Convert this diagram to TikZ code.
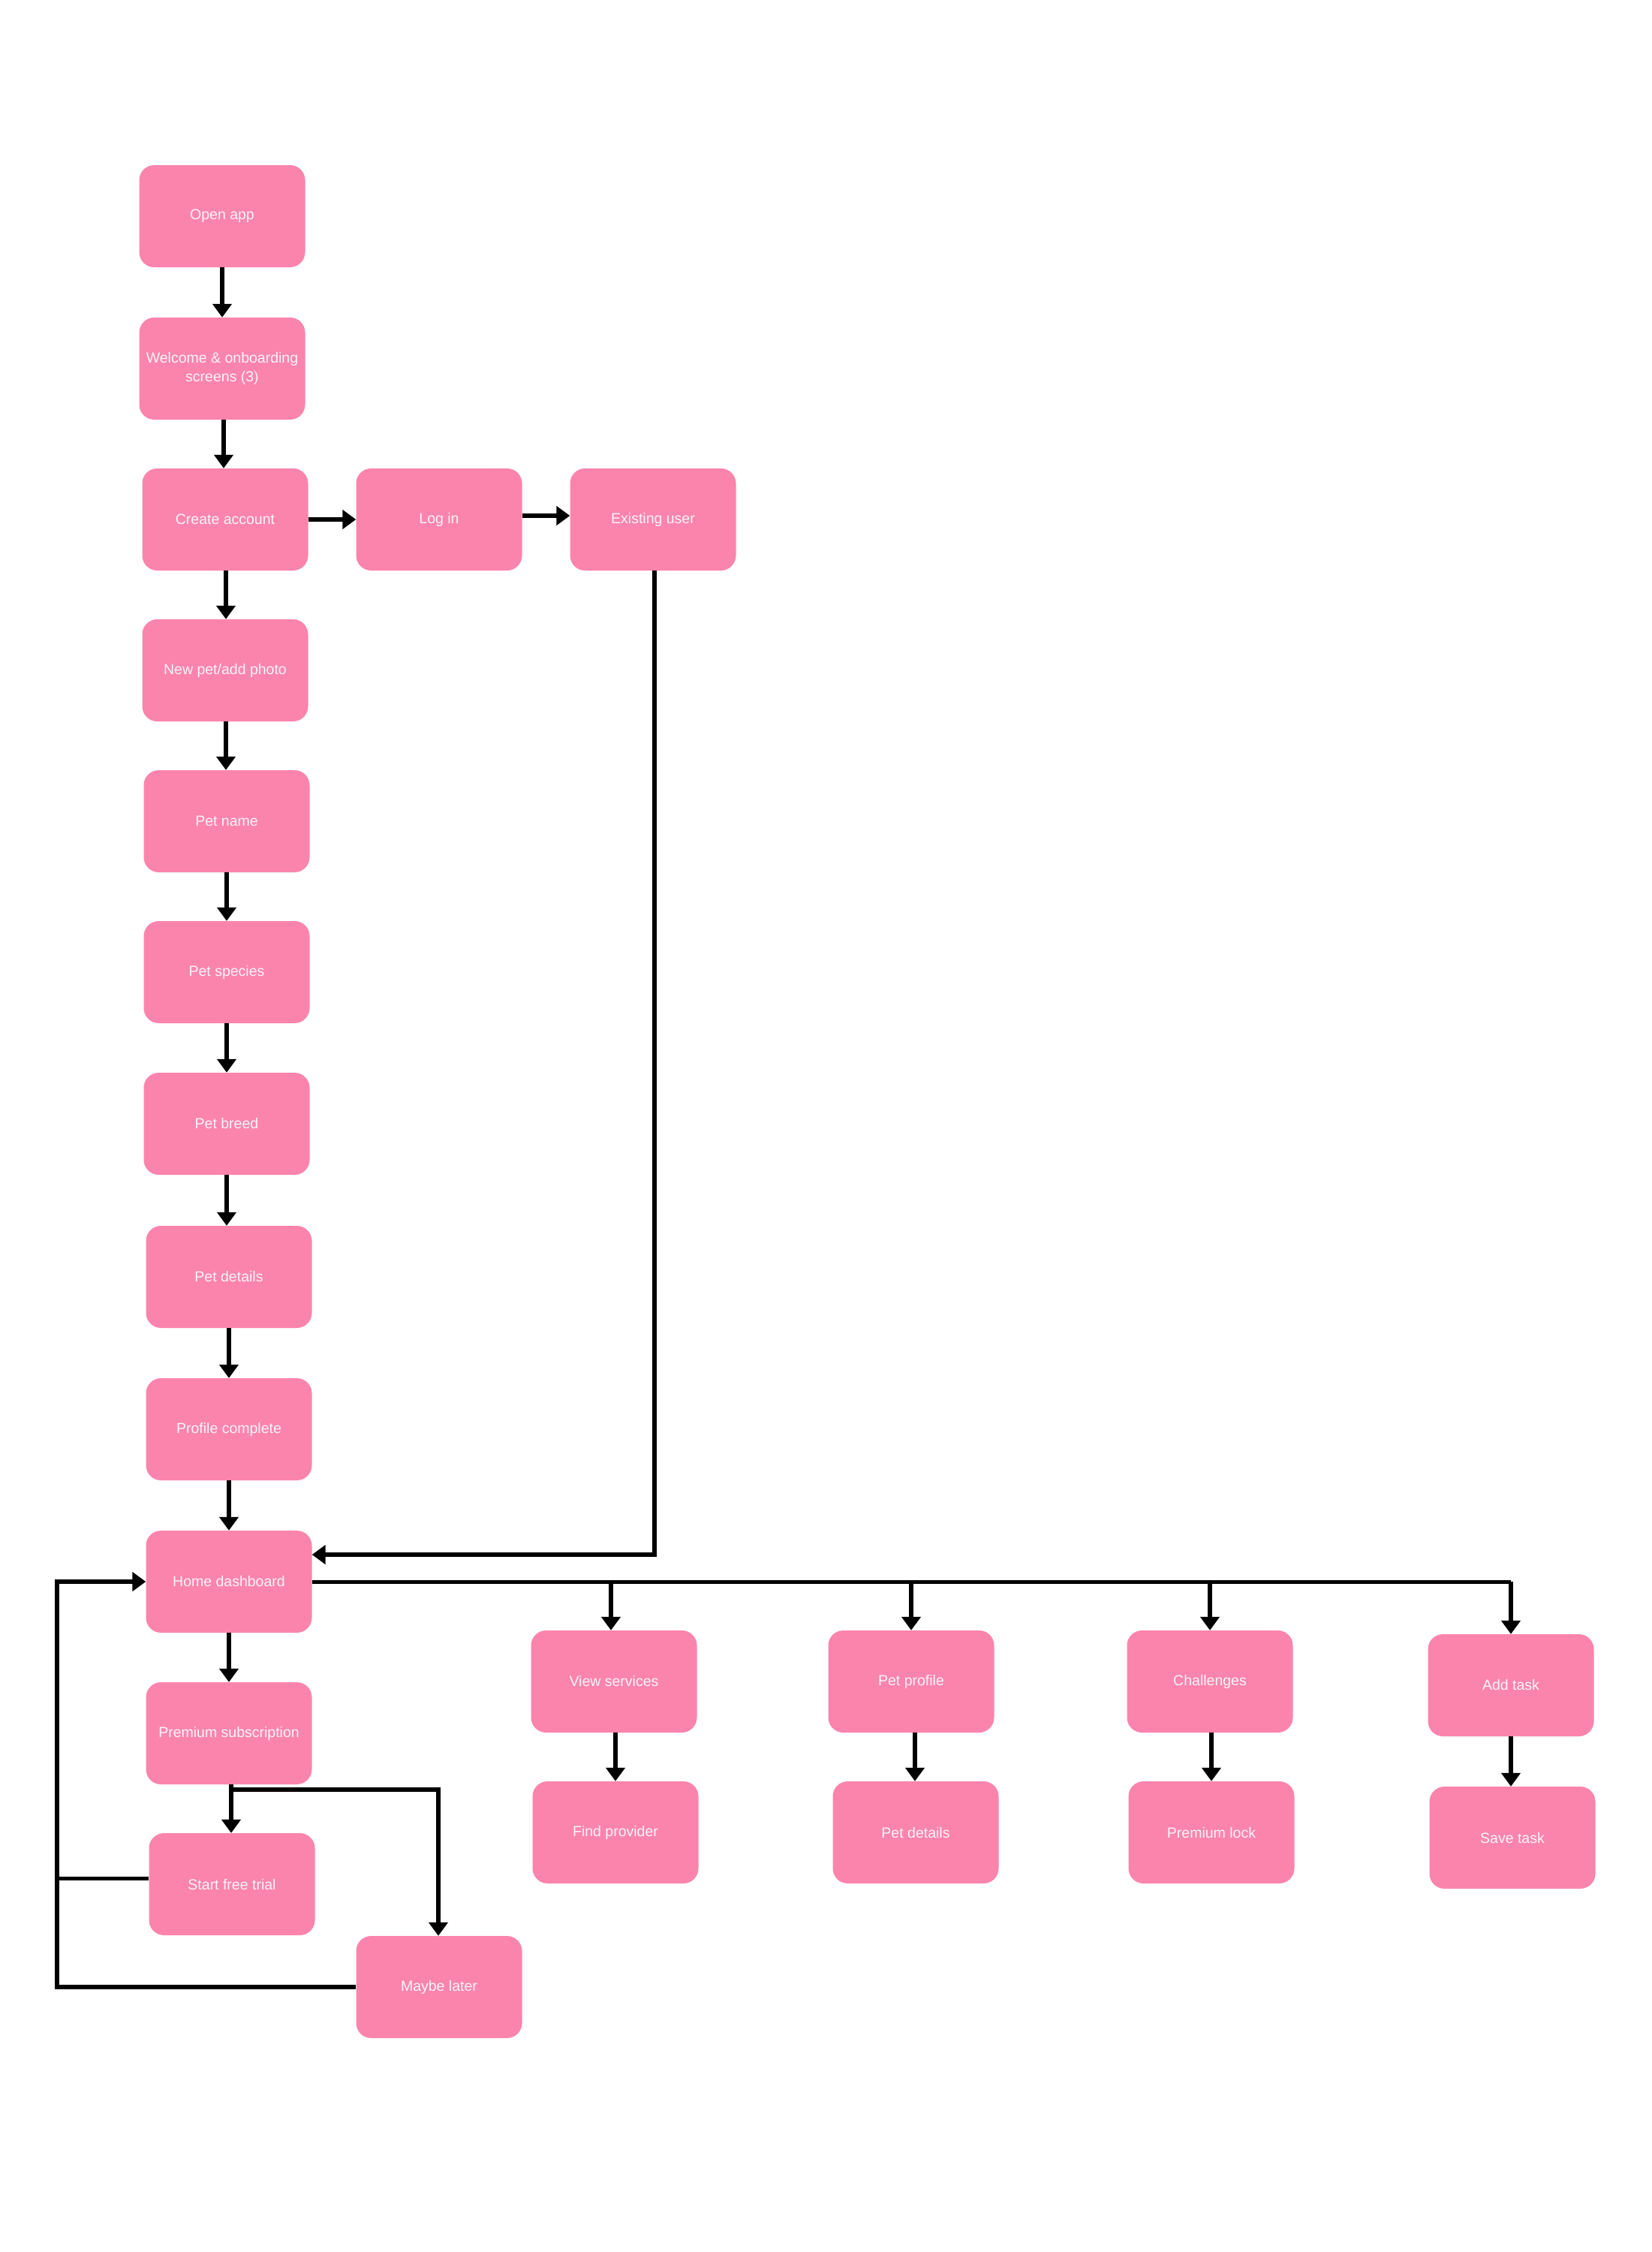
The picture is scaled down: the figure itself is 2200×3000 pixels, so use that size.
\documentclass[tikz,border=0pt]{standalone}
\usepackage{fontspec}
\setmainfont{Liberation Sans}
\usetikzlibrary{arrows.meta,positioning,calc}
\definecolor{boxpink}{HTML}{FB84AD}
\definecolor{boxtext}{HTML}{FFF4F8}
\tikzset{
  box/.style={draw=none, fill=boxpink, rounded corners=20pt, minimum width=221pt, minimum height=136pt,
    inner sep=0pt, align=center, text=boxtext, font=\fontsize{19.5pt}{25pt}\selectfont},
  arr/.style={line width=6pt, -{Triangle[width=25pt,length=18pt]}},
  ln/.style={line width=5pt}
}
\begin{document}
\begin{tikzpicture}[x=1pt,y=-1pt]
\fill[white] (0,0) rectangle (2200,3000);
\useasboundingbox (0,0) rectangle (2200,3000);
\node[box] (open) at (296,288) {Open app};
\node[box] (welcome) at (296,491) {Welcome \& onboarding\\screens (3)};
\node[box] (create) at (300,692) {Create account};
\node[box] (login) at (585,692) {Log in};
\node[box] (existing) at (870,692) {Existing user};
\node[box] (newpet) at (300,893) {New pet/add photo};
\node[box] (petname) at (302,1094) {Pet name};
\node[box] (species) at (302,1295) {Pet species};
\node[box] (breed) at (302,1497) {Pet breed};
\node[box] (details) at (305,1701) {Pet details};
\node[box] (complete) at (305,1904) {Profile complete};
\node[box] (home) at (305,2107) {Home dashboard};
\node[box] (premium) at (305,2309) {Premium subscription};
\node[box] (trial) at (309,2510) {Start free trial};
\node[box] (later) at (585,2647) {Maybe later};
\node[box] (views) at (818,2240) {View services};
\node[box] (find) at (820,2441) {Find provider};
\node[box] (profile) at (1214,2240) {Pet profile};
\node[box] (details2) at (1220,2441) {Pet details};
\node[box] (chall) at (1612,2240) {Challenges};
\node[box] (plock) at (1614,2441) {Premium lock};
\node[box] (addtask) at (2013,2245) {Add task};
\node[box] (save) at (2015,2448) {Save task};
\coordinate (loop) at (76,2647);

% main column
\draw[arr] (open.south) -- (open.south |- welcome.north);
\draw[arr] ([xshift=2pt]welcome.south) -- ([xshift=2pt]welcome.south |- create.north);
\draw[arr] ([xshift=1pt]create.south) -- ([xshift=1pt]create.south |- newpet.north);
\draw[arr] ([xshift=1pt]newpet.south) -- ([xshift=1pt]newpet.south |- petname.north);
\draw[arr] (petname.south) -- (petname.south |- species.north);
\draw[arr] (species.south) -- (species.south |- breed.north);
\draw[arr] (breed.south) -- (breed.south |- details.north);
\draw[arr] (details.south) -- (details.south |- complete.north);
\draw[arr] (complete.south) -- (complete.south |- home.north);
\draw[arr] (home.south) -- (home.south |- premium.north);
% login row
\draw[arr] (create.east) -- (login.west);
\draw[arr] ([yshift=5pt]login.east) -- ([yshift=5pt]existing.west);
\draw[arr] ([xshift=2pt]existing.south) |- ([yshift=36pt]home.east);
% dashboard branches
\draw[ln] (home.east) -- (home.east -| addtask.north);
\draw[arr] ([xshift=-4pt]views.north |- home.east) -- ([xshift=-4pt]views.north);
\draw[arr] (profile.north |- home.east) -- (profile.north);
\draw[arr] (chall.north |- home.east) -- (chall.north);
\draw[arr] (addtask.north |- home.east) -- (addtask.north);
\draw[arr] ([xshift=2pt]views.south) -- ([xshift=2pt]views.south |- find.north);
\draw[arr] ([xshift=5pt]profile.south) -- ([xshift=5pt]profile.south |- details2.north);
\draw[arr] ([xshift=2pt]chall.south) -- ([xshift=2pt]chall.south |- plock.north);
\draw[arr] (addtask.south) -- (addtask.south |- save.north);
% premium
\draw[arr] ([xshift=3pt]premium.south) -- ([xshift=3pt]premium.south |- trial.north);
\draw[arr] ([xshift=3pt,yshift=-7pt]premium.south) -| ([xshift=-1pt]later.north);
% loop back
\draw[arr] (later.west) -- (loop) |- (home.west);
\draw[ln] ([yshift=8pt]trial.west) -- ([yshift=8pt]trial.west -| loop);
\end{tikzpicture}
\end{document}
